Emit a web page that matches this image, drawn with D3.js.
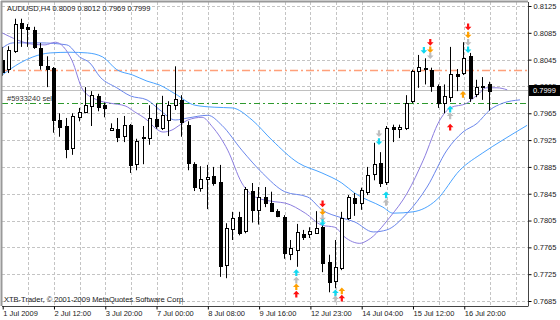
<!DOCTYPE html>
<html>
<head>
<meta charset="utf-8">
<script src="https://cdn.jsdelivr.net/npm/d3@7"></script>
<style>
  body { margin: 0; background: #fff; }
  text { font-family: "Liberation Sans", Arial, sans-serif; font-size: 7.5px; }
</style>
</head>
<body>
<div id="chart"></div>
<script>
// candles, one per H4 bar
var opens  = [.8045,.8030,.8058,.8100,.8094,.8089,.8062,.8036,.8032,.7955,.7946,.7913,.7960,.7967,.7976,.7991,.7977,.7940,.7942,.7930,
              .7947,.7889,.7929,.7928,.7956,.7943,.7955,.7977,.7985,.7947,.7889,.7854,.7867,.7871,.7862,.7739,.7792,.7810,.7789,.7849,
              .7821,.7840,.7831,.7819,.7810,.7755,.7761,.7785,.7785,.7786,.7795,.7743,.7715,.7734,.7809,.7839,.7831,.7848,.7874,.7891,
              .7862,.7945,.7942,.7942,.7983,.8028,.8032,.8030,.8006,.7980,.7989,.8024,.8025,.8050,.7994,.8006,.8009];
var highs  = [.8064,.8065,.8106,.8106,.8098,.8094,.8070,.8050,.8034,.7965,.7958,.7965,.7973,.8004,.7998,.7994,.7981,.7950,.7958,.7961,
              .7949,.7927,.7946,.7977,.7979,.7991,.7983,.8035,.7992,.7953,.7892,.7886,.7888,.7885,.7888,.7801,.7818,.7818,.7855,.7861,
              .7855,.7855,.7848,.7822,.7813,.7776,.7800,.7791,.7795,.7819,.7806,.7754,.7776,.7818,.7843,.7846,.7854,.7885,.7921,.7907,
              .7946,.7948,.7948,.7992,.8030,.8052,.8047,.8033,.8008,.8008,.8064,.8031,.8071,.8055,.8015,.8019,.8012];
var lows   = [.8021,.8025,.8055,.8064,.8064,.8061,.8030,.8004,.7936,.7930,.7898,.7903,.7953,.7965,.7946,.7968,.7959,.7939,.7922,.7922,
              .7876,.7880,.7889,.7918,.7942,.7940,.7931,.7970,.7930,.7880,.7849,.7848,.7822,.7857,.7721,.7719,.7776,.7783,.7786,.7802,
              .7799,.7825,.7818,.7810,.7748,.7746,.7736,.7776,.7779,.7786,.7728,.7698,.7704,.7731,.7806,.7812,.7821,.7843,.7865,.7855,
              .7858,.7922,.7928,.7940,.7980,.8003,.8008,.7997,.7973,.7965,.7982,.7998,.8022,.7982,.7989,.7985,.7969];
var closes = [.8027,.8059,.8098,.8092,.8091,.8064,.8037,.8032,.7955,.7945,.7912,.7961,.7967,.7977,.7992,.7974,.7973,.7943,.7930,.7947,
              .7888,.7924,.7928,.7958,.7945,.7962,.7977,.7986,.7952,.7891,.7854,.7867,.7870,.7861,.7736,.7794,.7809,.7786,.7852,.7821,
              .7840,.7831,.7819,.7812,.7757,.7764,.7788,.7780,.7789,.7794,.7742,.7713,.7736,.7809,.7840,.7831,.7851,.7873,.7889,.7861,
              .7943,.7942,.7945,.7980,.8028,.8034,.8030,.8006,.7980,.7991,.8024,.8021,.8047,.7988,.8004,.8004,.7999];

var timeLabels = ["1 Jul 2009", "2 Jul 12:00", "3 Jul 20:00", "7 Jul 00:00", "8 Jul 08:00",
                  "9 Jul 16:00", "12 Jul 23:00", "14 Jul 04:00", "15 Jul 12:00", "16 Jul 20:00"];
var priceTicks = [0.8125, 0.8085, 0.8045, 0.8005, 0.7965, 0.7925, 0.7885, 0.7845, 0.7805, 0.7765, 0.7725, 0.7685];

// moving averages as [bar, price], drawn shifted forward like in the terminal
var maFast = [[-0.1,.8085],[4.7,.8068],[6.6,.8067],[8.2,.8071],[10.8,.8044],[12.5,.8000],[14.7,.7985],[16.8,.7980],[19.1,.7976],
              [20.6,.7967],[22.5,.7955],[23.8,.7943],[25,.7937],[26.4,.7940],[27.7,.7948],[28.9,.7955],[31.1,.7959],[32.7,.7945],
              [35.1,.7910],[37.3,.7861],[39.4,.7840],[42.5,.7833],[44.1,.7831],[47.2,.7816],[49.8,.7798],[51.8,.7795],[53.4,.7780],
              [55.7,.7771],[57,.7776],[60.4,.7810],[63.1,.7846],[65.6,.7895],[68.2,.7955],[69.8,.7973],[72.4,.7980],[74,.7992],
              [75.5,.8003],[77.1,.8003],[78.7,.8000]];
var maMid  = [[-0.1,.8062],[1.6,.8070],[5.8,.8070],[10,.8067],[12,.8049],[13.6,.8040],[15.2,.8019],[17.8,.8003],[19.9,.7991],
              [22.5,.7985],[24.5,.7970],[26.9,.7955],[28.9,.7958],[32,.7962],[34.2,.7947],[37.3,.7910],[40.5,.7876],[44,.7848],
              [47.6,.7840],[49.8,.7821],[52.9,.7809],[54.9,.7803],[57.8,.7788],[59.9,.7791],[63.1,.7816],[66.2,.7855],[69.3,.7910],
              [71.8,.7937],[74,.7950],[76,.7970],[78,.7980],[80.7,.7985]];
var maSlow = [[-0.1,.8022],[2.7,.8040],[4.7,.8049],[7.4,.8055],[10.5,.8056],[13.2,.8055],[15.6,.8049],[17.8,.8030],[20.3,.8022],
              [22.5,.8013],[24.5,.8007],[26.9,.7994],[30,.7977],[33.1,.7974],[35.8,.7973],[38.9,.7955],[42,.7925],[46.1,.7891],
              [49.8,.7876],[52.9,.7861],[54.9,.7846],[59.3,.7825],[60.9,.7816],[64,.7818],[67.7,.7836],[71.3,.7880],[74.9,.7906],
              [78,.7925],[81.8,.7947]];

// signal arrows: [bar, price, colour, direction]
var arrows = [
  [49.9,.7830,"red","down"],[49.9,.7818,"orange","down"],[49.9,.7809,"silver","down"],[49.9,.7802,"aqua","down"],
  [45.8,.7727,"aqua","up"],[45.8,.7716,"silver","up"],[45.8,.7706,"orange","up"],[45.8,.7695,"red","up"],
  [51.9,.7697,"aqua","up"],[51.9,.7688,"silver","up"],[52.9,.7700,"orange","up"],[52.9,.7689,"red","up"],
  [58.7,.7935,"silver","down"],[58.7,.7923,"aqua","down"],
  [59.8,.7843,"aqua","up"],[59.8,.7832,"silver","up"],
  [65.7,.8059,"aqua","down"],[66.7,.8071,"red","down"],[66.7,.8060,"orange","down"],[66.7,.8051,"silver","down"],
  [69.8,.7971,"aqua","up"],[69.8,.7961,"silver","up"],[69.8,.7944,"red","up"],
  [71.8,.7993,"orange","up"],
  [72.6,.8094,"red","down"],[72.6,.8082,"orange","down"],[72.6,.8071,"silver","down"],[72.6,.8060,"aqua","down"]
];
var arrowColors = {red: "#ff1010", orange: "#ffa000", silver: "#bdbdbd", aqua: "#10d8f0"};

var orderLevel = 0.7980, orderLabel = "#5933240 sell";
var targetLevel = 0.8030;
var bidPrice = 0.7999;
var title = "AUDUSD,H4  0.8009 0.8012 0.7969 0.7999";
var copyright = "XTB-Trader, \u00a9 2001-2009 MetaQuotes Software Corp.";

var width = 560, height = 320;
var frame = {left: 2, top: 2, right: 528, bottom: 306};

var svg = d3.select("#chart").append("svg")
    .attr("width", width)
    .attr("height", height)
    .style("display", "block");

svg.append("rect").attr("width", width).attr("height", height).attr("fill", "#fff");

var x = d3.scaleLinear().domain([0, 76]).range([2.7, 489.9]);
var y = d3.scaleLinear().domain([0.7685, 0.8125]).range([301, 6]);

// grid
var grid = svg.append("g").attr("stroke", "#c4c4c4").attr("stroke-dasharray", "3,2");
grid.selectAll(".gx")
    .data(d3.range(4, 84, 4))
    .enter().append("line")
    .attr("x1", function(d) { return Math.round(x(d)) + 0.5; })
    .attr("x2", function(d) { return Math.round(x(d)) + 0.5; })
    .attr("y1", frame.top).attr("y2", frame.bottom);
grid.selectAll(".gy")
    .data(priceTicks)
    .enter().append("line")
    .attr("x1", frame.left).attr("x2", frame.right)
    .attr("y1", function(d) { return Math.round(y(d)) + 0.5; })
    .attr("y2", function(d) { return Math.round(y(d)) + 0.5; });

// level lines
svg.append("line")
    .attr("x1", frame.left).attr("x2", frame.right)
    .attr("y1", Math.round(y(bidPrice)) + 0.5).attr("y2", Math.round(y(bidPrice)) + 0.5)
    .attr("stroke", "#c0c0c0");
svg.append("line")
    .attr("x1", frame.left).attr("x2", frame.right)
    .attr("y1", Math.round(y(targetLevel)) + 0.5).attr("y2", Math.round(y(targetLevel)) + 0.5)
    .attr("stroke", "#ffa07a").attr("stroke-width", 1.5)
    .attr("stroke-dasharray", "8,3,2,3");
svg.append("line")
    .attr("x1", frame.left).attr("x2", frame.right)
    .attr("y1", Math.round(y(orderLevel)) + 0.5).attr("y2", Math.round(y(orderLevel)) + 0.5)
    .attr("stroke", "#2e9a2e")
    .attr("stroke-dasharray", "6,3,2,3");
svg.append("text")
    .attr("x", 7).attr("y", Math.round(y(orderLevel)) - 2)
    .attr("fill", "#333")
    .text(orderLabel);

// moving averages
var line = d3.line()
    .x(function(d) { return x(d[0]); })
    .y(function(d) { return y(d[1]); })
    .curve(d3.curveMonotoneX);
[[maSlow, "#4aa3ff"], [maMid, "#6a86ec"], [maFast, "#8c7ee0"]].forEach(function(s) {
  svg.append("path")
      .datum(s[0])
      .attr("fill", "none")
      .attr("stroke", s[1])
      .attr("stroke-width", 1)
      .attr("d", line);
});

// candles
var bars = d3.range(opens.length);
svg.selectAll(".wick")
    .data(bars)
    .enter().append("line")
    .attr("x1", function(i) { return Math.round(x(i)) - 0.5; })
    .attr("x2", function(i) { return Math.round(x(i)) - 0.5; })
    .attr("y1", function(i) { return y(highs[i]); })
    .attr("y2", function(i) { return y(lows[i]); })
    .attr("stroke", "#000");
svg.selectAll(".body")
    .data(bars)
    .enter().append("rect")
    .attr("x", function(i) { return Math.round(x(i)) - 2 + 0.5; })
    .attr("width", 3)
    .attr("y", function(i) { return Math.round(y(Math.max(opens[i], closes[i]))) + 0.5; })
    .attr("height", function(i) { return Math.max(1, Math.round(Math.abs(y(opens[i]) - y(closes[i])))); })
    .attr("fill", function(i) { return closes[i] < opens[i] ? "#000" : "#fff"; })
    .attr("stroke", "#000");

// arrows
svg.selectAll(".arrow")
    .data(arrows)
    .enter().append("path")
    .attr("transform", function(d) {
      return "translate(" + x(d[0]) + "," + y(d[1]) + ")" + (d[3] == "down" ? " rotate(180)" : "");
    })
    .attr("d", "M0,-3.5L3.3,0L1.1,0L1.1,3.2L-1.1,3.2L-1.1,0L-3.3,0Z")
    .attr("fill", function(d) { return arrowColors[d[2]]; });

// frame
svg.append("line").attr("x1", 1.5).attr("x2", 1.5).attr("y1", 1).attr("y2", frame.bottom).attr("stroke", "#999").attr("stroke-width", 2);
svg.append("line").attr("x1", 1).attr("x2", frame.right).attr("y1", 1.5).attr("y2", 1.5).attr("stroke", "#999").attr("stroke-width", 2);

// right price axis
var yAxis = svg.append("g")
    .attr("transform", "translate(" + (frame.right + 0.5) + ",0)")
    .call(d3.axisRight(y).tickValues(priceTicks).tickSize(3).tickPadding(2).tickFormat(d3.format(".4f")));
yAxis.select(".domain").attr("stroke", "#444").attr("d", "M0," + frame.top + "V" + frame.bottom);
yAxis.selectAll("text").attr("fill", "#222").style("font-size", "7.5px");

// bottom time axis
var xAxis = svg.append("g")
    .attr("transform", "translate(0," + (frame.bottom + 0.5) + ")")
    .call(d3.axisBottom(x).tickValues(d3.range(0, 73, 8)).tickSize(3).tickPadding(1)
      .tickFormat(function(d, i) { return timeLabels[i]; }));
xAxis.select(".domain").attr("stroke", "#444").attr("d", "M" + frame.left + ",0H" + (frame.right + 0.5));
xAxis.selectAll("text").attr("fill", "#222").attr("text-anchor", "start").attr("dx", "0").style("font-size", "7.5px");

// bid price tag
svg.append("rect")
    .attr("x", frame.right + 1).attr("y", Math.round(y(bidPrice)) - 5)
    .attr("width", 31).attr("height", 11)
    .attr("fill", "#000");
svg.append("text")
    .attr("x", frame.right + 5).attr("y", Math.round(y(bidPrice)) + 3)
    .attr("fill", "#fff")
    .text(d3.format(".4f")(bidPrice));

// header and footer
svg.append("text").attr("x", 7).attr("y", 11).attr("fill", "#222").text(title);
svg.append("text").attr("x", 4).attr("y", 302).attr("fill", "#222").text(copyright);
</script>
</body>
</html>
